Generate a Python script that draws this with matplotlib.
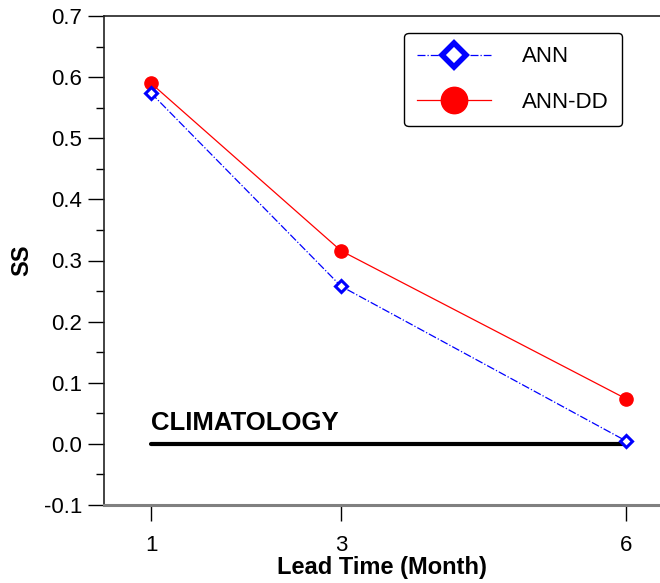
import matplotlib
matplotlib.use("Agg")
import matplotlib.pyplot as plt
from matplotlib.ticker import MultipleLocator

plt.rcParams["font.family"] = ["Liberation Sans", "DejaVu Sans"]

# data
lead = [1, 3, 6]
ann = [0.574, 0.258, 0.005]
ann_dd = [0.590, 0.316, 0.074]
clim_x = [1, 6]
clim_y = [0.0, 0.0]

fig = plt.figure(figsize=(6.6, 5.83), dpi=100)
ax = fig.add_axes([104 / 660, 1 - 505 / 583, 1 - 104 / 660, (505 - 16) / 583])

ax.plot(clim_x, clim_y, color="black", lw=3, solid_capstyle="round", zorder=2)
ax.text(1, 0.015, "CLIMATOLOGY", fontsize=18.5, fontweight="bold", ha="left", va="bottom")

ax.plot(lead, ann, color="blue", lw=0.9, ls="-.", marker="D", markersize=6,
        markerfacecolor="white", markeredgecolor="blue", markeredgewidth=2.2,
        label="ANN", zorder=4)
ax.plot(lead, ann_dd, color="red", lw=0.9, ls="-", marker="o", markersize=9.5,
        markerfacecolor="red", markeredgecolor="red", label="ANN-DD", zorder=3)

ax.set_xlim(0.505, 6.36)
ax.set_ylim(-0.1, 0.7)
ax.set_xticks(lead)
ax.yaxis.set_major_locator(MultipleLocator(0.1))
ax.yaxis.set_minor_locator(MultipleLocator(0.05))
ax.yaxis.set_major_formatter(plt.FuncFormatter(lambda v, p: f"{v:.1f}"))

ax.tick_params(axis="y", which="major", direction="out", length=11.5, width=1,
               labelsize=16, pad=4)
ax.tick_params(axis="y", which="minor", direction="out", length=5.8, width=1)
ax.tick_params(axis="x", which="major", direction="out", length=11.5, width=1,
               labelsize=16, pad=10)

ax.spines["right"].set_visible(False)
ax.spines["left"].set_linewidth(1.2)
ax.spines["left"].set_color("#222222")
ax.spines["top"].set_linewidth(1.2)
ax.spines["top"].set_color("#222222")
ax.spines["bottom"].set_linewidth(2.2)
ax.spines["bottom"].set_color("#808080")

ax.set_ylabel("SS", fontsize=17, fontweight="bold", labelpad=8)
ax.set_xlabel("Lead Time (Month)", fontsize=17, fontweight="bold", labelpad=0)

leg = ax.legend(loc="upper right", bbox_to_anchor=((622 - 104) / 556, 1 - 17 / 489),
                borderaxespad=0, fontsize=16, markerscale=2, handlelength=3.3,
                handletextpad=1.4, borderpad=0.6, labelspacing=1.1, fancybox=True,
                framealpha=1, edgecolor="black")
leg.get_frame().set_linewidth(1)
leg.legend_handles[0].set_markeredgewidth(4)

fig.savefig("out.png", dpi=100)
